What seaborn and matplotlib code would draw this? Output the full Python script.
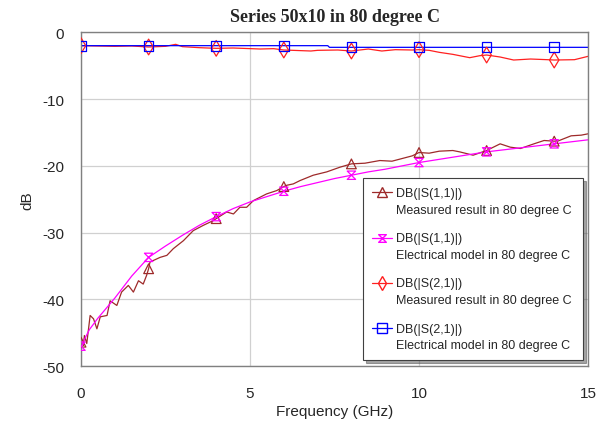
import numpy as np
import pandas as pd
import seaborn as sns
import matplotlib.pyplot as plt
from matplotlib.lines import Line2D
from matplotlib.path import Path

# measured S11 (GHz, dB)
s11_meas_f = [0.0, 0.07, 0.1, 0.17, 0.27, 0.37, 0.47, 0.57, 0.77, 0.86, 1.06, 1.2, 1.4, 1.55, 1.7,
              1.84, 1.94, 2.0, 2.04, 2.34, 2.54, 2.73, 3.03, 3.32, 3.62, 3.91, 4.0, 4.31, 4.51, 4.7,
              4.9, 5.1, 5.49, 5.79, 6.0, 6.09, 6.28, 6.48, 6.87, 7.27, 7.66, 8.0, 8.4, 8.84, 9.2,
              9.5, 9.8, 10.0, 10.3, 10.6, 11.0, 11.2, 11.6, 12.0, 12.4, 12.7, 13.0, 13.4, 13.7,
              14.0, 14.1, 14.5, 14.8, 15.0]
s11_meas_db = [-46.4, -46.9, -45.4, -46.6, -42.4, -42.9, -44.4, -42.6, -42.4, -40.2, -40.9, -38.9,
               -37.9, -38.9, -37.2, -37.7, -36.4, -35.4, -34.4, -33.7, -33.4, -32.4, -31.2, -29.7,
               -28.9, -28.2, -27.9, -26.9, -27.2, -26.2, -26.2, -25.2, -24.2, -23.7, -23.1, -22.9,
               -22.7, -22.2, -21.4, -20.9, -20.2, -19.7, -19.6, -19.2, -19.3, -18.9, -18.5, -18.0,
               -18.1, -17.8, -17.7, -17.9, -18.4, -17.7, -16.7, -17.2, -17.4, -16.7, -16.2, -16.3,
               -16.3, -15.5, -15.4, -15.2]

# electrical model S11
s11_model_f = [0.0, 0.1, 0.25, 0.5, 0.75, 1.0, 1.5, 2.0, 2.5, 3.0, 3.5, 4.0, 4.5, 5.0, 5.5, 6.0,
               6.5, 7.0, 7.5, 8.0, 8.5, 9.0, 9.5, 10.0, 10.5, 11.0, 11.5, 12.0, 12.5, 13.0, 13.5,
               14.0, 14.5, 15.0]
s11_model_db = [-47.0, -46.0, -44.5, -42.8, -41.3, -39.8, -36.5, -33.7, -32.0, -30.4, -28.9, -27.6,
                -26.4, -25.4, -24.6, -23.8, -23.1, -22.5, -21.9, -21.4, -20.9, -20.5, -20.0, -19.5,
                -19.1, -18.7, -18.3, -17.9, -17.6, -17.3, -17.0, -16.7, -16.4, -16.1]

# measured S21
s21_meas_f = [0.0, 0.5, 1.0, 1.5, 2.0, 2.5, 2.8, 3.0, 3.5, 4.0, 4.5, 5.3, 5.7, 6.0, 6.8, 7.0, 7.6,
              8.0, 8.5, 8.9, 9.3, 9.8, 10.0, 10.3, 10.6, 11.0, 11.5, 11.8, 12.0, 12.4, 12.8, 13.3,
              13.8, 14.0, 14.6, 15.0]
s21_meas_db = [-2.0, -2.05, -2.1, -2.05, -2.2, -2.1, -1.8, -2.15, -2.3, -2.4, -2.35, -2.5, -2.45,
               -2.65, -2.8, -2.7, -2.65, -2.8, -2.5, -2.8, -2.6, -2.65, -2.6, -2.7, -3.0, -3.3,
               -3.8, -3.5, -3.4, -3.7, -4.15, -4.0, -4.1, -4.15, -4.1, -3.6]

# electrical model S21
s21_model_f = [0.0, 2.0, 4.0, 6.0, 7.3, 7.35, 8.0, 10.0, 12.0, 14.0, 15.0]
s21_model_db = [-2.0, -2.0, -2.0, -2.0, -2.0, -2.25, -2.25, -2.25, -2.25, -2.25, -2.25]

marker_f = [0, 2, 4, 6, 8, 10, 12, 14]

labels = ["DB(|S(1,1)|)\nMeasured result in 80 degree C",
          "DB(|S(1,1)|)\nElectrical model in 80 degree C",
          "DB(|S(2,1)|)\nMeasured result in 80 degree C",
          "DB(|S(2,1)|)\nElectrical model in 80 degree C"]

hourglass = Path([(-1, 1), (1, 1), (-1, -1), (1, -1), (-1, 1)],
                 [Path.MOVETO, Path.LINETO, Path.LINETO, Path.LINETO, Path.CLOSEPOLY])

series = [
    (s11_meas_f, s11_meas_db, "#9E2A2A", "^", 7, 7),
    (s11_model_f, s11_model_db, "#FF00FF", hourglass, 6, 5.5),
    (s21_meas_f, s21_meas_db, "#FF2020", "d", 8, 7),
    (s21_model_f, s21_model_db, "#0000FF", "s", 7, 7),
]

sns.set_theme(style="white")
plt.rcParams['font.family'] = ['Liberation Sans', 'DejaVu Sans']
plt.rcParams['axes.unicode_minus'] = False

fig = plt.figure(figsize=(6.01, 4.27), dpi=100)
ax = fig.add_axes([0.1348, 0.14, 0.8436, 0.782])

handles = []
for (f, db, col, mk, ms, ms_leg), lab in zip(series, labels):
    df = pd.DataFrame({"f": f, "db": db})
    sns.lineplot(data=df, x="f", y="db", ax=ax, color=col, linewidth=0.9,
                 estimator=None, sort=False)
    mdf = df[np.isin(df["f"], marker_f)]
    ax.scatter(mdf["f"], mdf["db"], marker=mk, s=ms ** 2, facecolors="none",
               edgecolors=col, linewidths=0.9, zorder=3)
    handles.append(Line2D([], [], color=col, linewidth=0.9, marker=mk, markersize=ms_leg,
                          markerfacecolor="none", markeredgecolor=col))

ax.set_xlim(0, 15)
ax.set_ylim(-50, 0)
ax.set_xticks([0, 5, 10, 15])
ax.set_yticks([0, -10, -20, -30, -40, -50])
ax.grid(True, color="#d0d0d0", linewidth=0.9)
ax.tick_params(axis="y", length=0, labelsize=11, pad=12)
ax.tick_params(axis="x", length=0, labelsize=11, pad=14)
for sp in ax.spines.values():
    sp.set_color("#808080")
    sp.set_linewidth(1.0)

ax.set_xlabel("Frequency (GHz)", fontsize=11, labelpad=3)
ax.set_ylabel("dB", fontsize=11, labelpad=6)
ax.set_title("Series 50x10 in 80 degree C", fontsize=13, fontweight="bold",
             family=["Liberation Serif", "DejaVu Serif"], pad=8)

leg = ax.legend(handles, labels, loc="lower left", bbox_to_anchor=(0.556, 0.018, 0.434, 0.55),
                mode="expand", fontsize=9, frameon=True, fancybox=False, shadow=True,
                handlelength=1.6, handletextpad=0.35, labelspacing=1.3, borderpad=0.7,
                borderaxespad=0)
leg.get_frame().set_edgecolor("#404040")
leg.get_frame().set_linewidth(0.8)
for t in leg.get_texts():
    t.set_linespacing(1.55)
# put each handle beside the first line of its label
for h in leg.legend_handles:
    h.set_ydata(np.asarray(h.get_ydata()) + 6.5)

fig.savefig("out.png", dpi=100)
